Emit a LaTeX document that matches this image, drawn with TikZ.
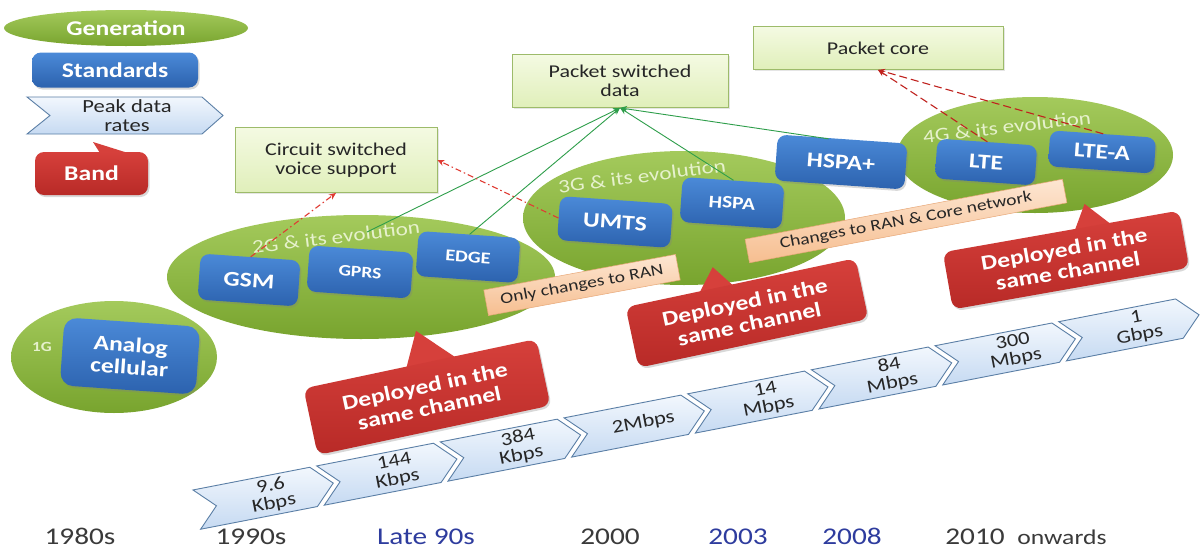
\documentclass[tikz,border=0pt]{standalone}
\usepackage{fontspec}
\setmainfont[FakeStretch=1.22]{Carlito}
\usetikzlibrary{shapes.geometric,shadows,arrows.meta}
\definecolor{genT}{HTML}{A4CA5C}
\definecolor{genB}{HTML}{78A42E}
\definecolor{stdT}{HTML}{4B8AD8}
\definecolor{stdB}{HTML}{2C62AE}
\definecolor{redT}{HTML}{D6403B}
\definecolor{redB}{HTML}{B82A27}
\definecolor{boxT}{HTML}{F4FAE2}
\definecolor{boxB}{HTML}{E0EFBA}
\definecolor{boxD}{HTML}{9DBB6A}
\definecolor{labT}{HTML}{FDE6D2}
\definecolor{labB}{HTML}{F6BE90}
\definecolor{labD}{HTML}{E8A878}
\definecolor{chT}{HTML}{F2F7FD}
\definecolor{chB}{HTML}{C6DAF2}
\definecolor{chD}{HTML}{5B7FA6}
\definecolor{lineG}{HTML}{2E9E4A}
\definecolor{lineR}{HTML}{E03A32}
\definecolor{lineDR}{HTML}{C0221E}
\definecolor{txt}{HTML}{262626}
\definecolor{gtxt}{HTML}{E6F1CC}
\definecolor{yrB}{HTML}{2E3C9E}
\definecolor{yrK}{HTML}{3A3A3A}
\begin{document}
\begin{tikzpicture}[x=1pt,y=-1pt,
  gen/.style={ellipse, top color=genT, bottom color=genB, draw=none, inner sep=0pt},
  std/.style={rectangle, rounded corners=9pt, top color=stdT, bottom color=stdB, draw=none, text=white,
    font=\bfseries\fontsize{21}{22}\selectfont, align=center, inner sep=0pt,
    drop shadow={opacity=0.3,shadow xshift=1.5pt,shadow yshift=-2pt}},
  redbox/.style={rectangle, rounded corners=9pt, top color=redT, bottom color=redB, draw=none, text=white,
    font=\bfseries\fontsize{21}{22}\selectfont, align=center, inner sep=0pt,
    drop shadow={opacity=0.3,shadow xshift=1.5pt,shadow yshift=-2pt}},
  grbox/.style={rectangle, top color=boxT, bottom color=boxB, draw=boxD, line width=0.8pt, text=txt,
    font=\fontsize{18}{19}\selectfont, align=center, inner sep=0pt,
    drop shadow={opacity=0.2,shadow xshift=1.5pt,shadow yshift=-1.5pt}},
  lab/.style={rectangle, top color=labT, bottom color=labB, draw=labD, line width=0.5pt, text=txt,
    font=\fontsize{16}{17}\selectfont, inner sep=0pt},
  chev/.style={top color=chT, bottom color=chB, draw=chD, line width=0.9pt, line join=miter},
  chevtext/.style={text=txt, font=\fontsize{18.5}{18}\selectfont, align=center, inner sep=0pt},
  gtext/.style={text=gtxt, font=\fontsize{19}{19}\selectfont, inner sep=0pt},
  yr/.style={font=\fontsize{24}{24}\selectfont, anchor=base, inner sep=0pt},
  gl/.style={draw=lineG, line width=0.9pt, -{Stealth[length=7pt,width=6pt]}},
  rdd/.style={draw=lineR, line width=1.1pt, dash pattern=on 6pt off 3pt on 1.5pt off 3pt, -{Stealth[length=7pt,width=6pt]}},
  rd/.style={draw=lineDR, line width=1.1pt, dash pattern=on 8pt off 4pt, -{Stealth[length=7pt,width=6pt]}}
]
\fill[white] (0,0) rectangle (1203,549);
\useasboundingbox (0,0) rectangle (1203,549);

% ---------- legend ----------
\node[gen, minimum width=244pt, minimum height=36pt, text=white, font=\bfseries\fontsize{21}{22}\selectfont] (lgen) at (126,28) {Generation};
\node[std, minimum width=166pt, minimum height=35pt] (lstd) at (115,70) {Standards};
\draw[chev] (27,97) -- (202,97) -- (223,115.5) -- (202,134) -- (27,134) -- (50,115.5) -- cycle;
\node[chevtext, font=\fontsize{18.5}{19}\selectfont] (lpeak) at (127,116) {Peak data\\rates};
\fill[redT] (100,153) -- (93,142) -- (128,153) -- cycle;
\node[redbox, minimum width=113pt, minimum height=43pt] (lband) at (91.5,173.5) {Band};

% ---------- generation ellipses ----------
\node[gen, minimum width=206pt, minimum height=112pt] (g1) at (114,357) {};
\node[gen, minimum width=388pt, minimum height=124pt] (g2) at (361,277) {};
\node[gen, minimum width=322pt, minimum height=134pt] (g3) at (684,218) {};
\node[gen, minimum width=276pt, minimum height=116pt] (g4) at (1035,155) {};

\node[text=gtxt, font=\bfseries\fontsize{14}{14}\selectfont, inner sep=0pt] (t1) at (42,347) {1G};
\node[gtext, rotate=7] (t2) at (336,237) {2G \& its evolution};
\node[gtext, rotate=7.4] (t3) at (642,176) {3G \& its evolution};
\node[gtext, rotate=6.7] (t4) at (1007,127) {4G \& its evolution};
\coordinate (g2t) at (367,232);

% ---------- green target boxes ----------
\node[grbox, minimum width=202pt, minimum height=65pt] (cs) at (336,160) {Circuit switched\\voice support};
\node[grbox, minimum width=216pt, minimum height=53pt] (psd) at (620,81) {Packet switched\\data};
\node[grbox, minimum width=250pt, minimum height=43pt] (pc) at (878,48) {Packet core};

% ---------- standards ----------
\node[std, rotate=-4, minimum width=136pt, minimum height=68pt, rounded corners=13pt] (ac) at (130,356) {Analog\\cellular};
\node[std, rotate=-4, minimum width=100pt, minimum height=46pt] (gsm) at (249,280) {GSM};
\node[std, rotate=-4, minimum width=104pt, minimum height=46pt, font=\bfseries\fontsize{16}{16}\selectfont] (gprs) at (360,272) {GPRS};
\node[std, rotate=-4, minimum width=102pt, minimum height=45pt, font=\bfseries\fontsize{16.5}{16}\selectfont] (edge) at (468,257) {EDGE};
\node[std, rotate=-4, minimum width=113pt, minimum height=44pt] (umts) at (615,222) {UMTS};
\node[std, rotate=-4, minimum width=102pt, minimum height=45pt, font=\bfseries\fontsize{17.5}{17}\selectfont] (hspa) at (732,203) {HSPA};
\node[std, rotate=-4, minimum width=130pt, minimum height=46pt] (hspap) at (841,162) {HSPA+};
\node[std, rotate=-4, minimum width=100pt, minimum height=40pt] (lte) at (986,162) {LTE};
\node[std, rotate=-4, minimum width=106pt, minimum height=36pt] (ltea) at (1102,152) {LTE-A};

% ---------- connectors ----------
\draw[gl] (g2t) -- (psd.south);
\draw[gl] (edge.north) -- (psd.south);
\draw[gl] (hspa.north) -- (psd.south);
\draw[gl] ([xshift=-14pt]hspap.north) -- (psd.south);
\draw[rdd] (gsm.north) -- (cs.south);
\draw[rdd] (umts.west) -- (cs.east);
\draw[rd] (lte.north) -- (pc.south);
\draw[rd] (ltea.north) -- (pc.south);

% ---------- change labels ----------
\node[lab, rotate=10.5, minimum width=195pt, minimum height=26pt] (l1) at (582,285) {Only changes to RAN};
\node[lab, rotate=10.7, minimum width=323pt, minimum height=24pt] (l2) at (906,221) {Changes to RAN \& Core network};

% ---------- callouts ----------
\begin{scope}[shift={(427,397)}, rotate=12]
  \fill[redT] (-14,-33) -- (3,-67) -- (36,-33) -- cycle;
  \node[redbox, rotate=12, minimum width=238pt, minimum height=68pt] (d2) at (0,0) {Deployed in the\\same channel};
\end{scope}
\begin{scope}[shift={(747,313)}, rotate=12]
  \fill[redT] (-42,-30) -- (-24,-52) -- (-8,-30) -- cycle;
  \node[redbox, rotate=12, minimum width=235pt, minimum height=62pt] (d3) at (0,0) {Deployed in the\\same channel};
\end{scope}
\begin{scope}[shift={(1066,260)}, rotate=10]
  \fill[redT] (14,-28) -- (28,-52) -- (50,-28) -- cycle;
  \node[redbox, rotate=10, minimum width=240pt, minimum height=58pt] (d4) at (0,0) {Deployed in the\\same channel};
\end{scope}

% ---------- peak data rate chevrons ----------
\begin{scope}[shift={(196.8,509.6)}, rotate=11]
\foreach \i/\t in {0/{9.6\\Kbps},1/{144\\Kbps},2/{384\\Kbps},3/{2Mbps},4/{14\\Mbps},5/{84\\Mbps},6/{300\\Mbps},7/{1\\Gbps}}{
  \draw[chev] (\i*126,-20) -- (\i*126+119,-20) -- (\i*126+139,0) -- (\i*126+119,20) -- (\i*126,20) -- (\i*126+20,0) -- cycle;
  \node[chevtext, rotate=11] (r\i) at (\i*126+77,0) {\t};
}
\end{scope}

% ---------- years ----------
\node[yr, text=yrK] (y1) at (80,544) {1980s};
\node[yr, text=yrK] (y2) at (251,544) {1990s};
\node[yr, text=yrB] (y3) at (426,544) {Late 90s};
\node[yr, text=yrK] (y4) at (610,544) {2000};
\node[yr, text=yrB] (y5) at (738,544) {2003};
\node[yr, text=yrB] (y6) at (852,544) {2008};
\node[yr, text=yrK] (y7) at (975,544) {2010};
\node[yr, text=yrK, font=\fontsize{21}{21}\selectfont] (y8) at (1062,544) {onwards};
\end{tikzpicture}
\end{document}
